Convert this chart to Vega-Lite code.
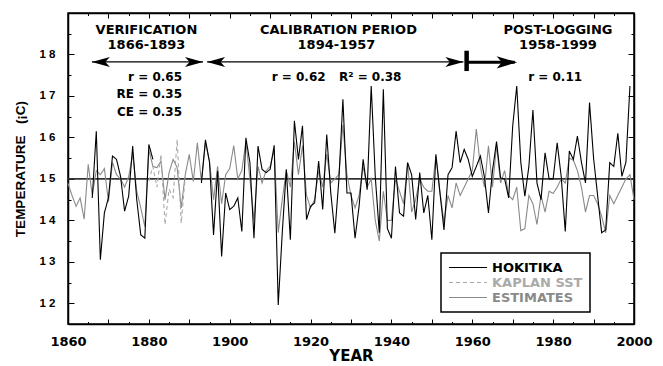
{
  "$schema": "https://vega.github.io/schema/vega-lite/v6.json",
  "width": 566,
  "height": 311,
  "autosize": {"type": "none"},
  "padding": {"left": 68, "top": 13, "right": 29, "bottom": 42},
  "background": "white",
  "config": {
    "view": {"stroke": "black", "strokeWidth": 1.5},
    "axis": {"grid": false, "domainColor": "black", "domainWidth": 1.5, "tickColor": "black", "tickWidth": 1, "labelColor": "black", "titleColor": "black", "labelFontWeight": "bold", "titleFontWeight": "bold", "labelOverlap": false, "labelFlush": false},
    "legend": {"orient": "none", "legendX": 373, "legendY": 240, "direction": "vertical", "symbolType": "M-1,0H4.85", "symbolSize": 169, "symbolStrokeWidth": 1.2, "labelFont": "DejaVu Sans", "labelFontSize": 13, "labelFontWeight": "bold", "labelOffset": 29, "padding": 7, "rowPadding": 0, "strokeColor": "black", "fillColor": "white"}
  },
  "datasets": {
    "temps": [
      {"year":1860,"series":"ESTIMATES","temp":14.89},{"year":1861,"series":"ESTIMATES","temp":14.6},{"year":1862,"series":"ESTIMATES","temp":14.34},{"year":1863,"series":"ESTIMATES","temp":14.54},{"year":1864,"series":"ESTIMATES","temp":14.03},{"year":1865,"series":"ESTIMATES","temp":15.35},{"year":1866,"series":"ESTIMATES","temp":14.6},{"year":1867,"series":"ESTIMATES","temp":15.2},{"year":1868,"series":"ESTIMATES","temp":15.1},{"year":1869,"series":"ESTIMATES","temp":15.25},
      {"year":1870,"series":"ESTIMATES","temp":14.45},{"year":1871,"series":"ESTIMATES","temp":15.4},{"year":1872,"series":"ESTIMATES","temp":15.1},{"year":1873,"series":"ESTIMATES","temp":15.0},{"year":1874,"series":"ESTIMATES","temp":14.8},{"year":1875,"series":"ESTIMATES","temp":15.05},{"year":1876,"series":"ESTIMATES","temp":15.6},{"year":1877,"series":"ESTIMATES","temp":14.7},{"year":1878,"series":"ESTIMATES","temp":14.3},{"year":1879,"series":"ESTIMATES","temp":13.85},
      {"year":1880,"series":"ESTIMATES","temp":15.7},{"year":1881,"series":"ESTIMATES","temp":15.3},{"year":1882,"series":"ESTIMATES","temp":15.27},{"year":1883,"series":"ESTIMATES","temp":15.43},{"year":1884,"series":"ESTIMATES","temp":14.5},{"year":1885,"series":"ESTIMATES","temp":15.15},{"year":1886,"series":"ESTIMATES","temp":15.47},{"year":1887,"series":"ESTIMATES","temp":15.27},{"year":1888,"series":"ESTIMATES","temp":14.3},{"year":1889,"series":"ESTIMATES","temp":15.1},
      {"year":1890,"series":"ESTIMATES","temp":15.59},{"year":1891,"series":"ESTIMATES","temp":14.94},{"year":1892,"series":"ESTIMATES","temp":15.87},{"year":1893,"series":"ESTIMATES","temp":14.94},{"year":1894,"series":"ESTIMATES","temp":15.87},{"year":1895,"series":"ESTIMATES","temp":15.43},{"year":1896,"series":"ESTIMATES","temp":14.5},{"year":1897,"series":"ESTIMATES","temp":15.3},{"year":1898,"series":"ESTIMATES","temp":14.4},{"year":1899,"series":"ESTIMATES","temp":15.1},
      {"year":1900,"series":"ESTIMATES","temp":15.25},{"year":1901,"series":"ESTIMATES","temp":15.8},{"year":1902,"series":"ESTIMATES","temp":15.0},{"year":1903,"series":"ESTIMATES","temp":15.2},{"year":1904,"series":"ESTIMATES","temp":15.9},{"year":1905,"series":"ESTIMATES","temp":15.0},{"year":1906,"series":"ESTIMATES","temp":14.0},{"year":1907,"series":"ESTIMATES","temp":15.3},{"year":1908,"series":"ESTIMATES","temp":14.9},{"year":1909,"series":"ESTIMATES","temp":15.2},
      {"year":1910,"series":"ESTIMATES","temp":15.3},{"year":1911,"series":"ESTIMATES","temp":15.7},{"year":1912,"series":"ESTIMATES","temp":13.7},{"year":1913,"series":"ESTIMATES","temp":14.5},{"year":1914,"series":"ESTIMATES","temp":15.2},{"year":1915,"series":"ESTIMATES","temp":14.8},{"year":1916,"series":"ESTIMATES","temp":15.9},{"year":1917,"series":"ESTIMATES","temp":15.1},{"year":1918,"series":"ESTIMATES","temp":15.8},{"year":1919,"series":"ESTIMATES","temp":14.6},
      {"year":1920,"series":"ESTIMATES","temp":14.3},{"year":1921,"series":"ESTIMATES","temp":14.5},{"year":1922,"series":"ESTIMATES","temp":15.2},{"year":1923,"series":"ESTIMATES","temp":14.8},{"year":1924,"series":"ESTIMATES","temp":15.6},{"year":1925,"series":"ESTIMATES","temp":14.9},{"year":1926,"series":"ESTIMATES","temp":15.0},{"year":1927,"series":"ESTIMATES","temp":15.1},{"year":1928,"series":"ESTIMATES","temp":16.3},{"year":1929,"series":"ESTIMATES","temp":15.1},
      {"year":1930,"series":"ESTIMATES","temp":14.6},{"year":1931,"series":"ESTIMATES","temp":14.3},{"year":1932,"series":"ESTIMATES","temp":14.6},{"year":1933,"series":"ESTIMATES","temp":15.3},{"year":1934,"series":"ESTIMATES","temp":14.8},{"year":1935,"series":"ESTIMATES","temp":15.0},{"year":1936,"series":"ESTIMATES","temp":14.0},{"year":1937,"series":"ESTIMATES","temp":13.5},{"year":1938,"series":"ESTIMATES","temp":14.7},{"year":1939,"series":"ESTIMATES","temp":14.0},
      {"year":1940,"series":"ESTIMATES","temp":14.0},{"year":1941,"series":"ESTIMATES","temp":15.0},{"year":1942,"series":"ESTIMATES","temp":14.7},{"year":1943,"series":"ESTIMATES","temp":14.4},{"year":1944,"series":"ESTIMATES","temp":15.4},{"year":1945,"series":"ESTIMATES","temp":14.2},{"year":1946,"series":"ESTIMATES","temp":14.5},{"year":1947,"series":"ESTIMATES","temp":15.0},{"year":1948,"series":"ESTIMATES","temp":14.8},{"year":1949,"series":"ESTIMATES","temp":14.7},
      {"year":1950,"series":"ESTIMATES","temp":14.7},{"year":1951,"series":"ESTIMATES","temp":15.55},{"year":1952,"series":"ESTIMATES","temp":14.7},{"year":1953,"series":"ESTIMATES","temp":13.95},{"year":1954,"series":"ESTIMATES","temp":14.6},{"year":1955,"series":"ESTIMATES","temp":14.3},{"year":1956,"series":"ESTIMATES","temp":14.9},{"year":1957,"series":"ESTIMATES","temp":14.6},{"year":1958,"series":"ESTIMATES","temp":14.8},{"year":1959,"series":"ESTIMATES","temp":15.0},
      {"year":1960,"series":"ESTIMATES","temp":15.2},{"year":1961,"series":"ESTIMATES","temp":16.2},{"year":1962,"series":"ESTIMATES","temp":15.3},{"year":1963,"series":"ESTIMATES","temp":14.8},{"year":1964,"series":"ESTIMATES","temp":15.8},{"year":1965,"series":"ESTIMATES","temp":14.8},{"year":1966,"series":"ESTIMATES","temp":15.8},{"year":1967,"series":"ESTIMATES","temp":14.9},{"year":1968,"series":"ESTIMATES","temp":15.2},{"year":1969,"series":"ESTIMATES","temp":14.6},
      {"year":1970,"series":"ESTIMATES","temp":14.5},{"year":1971,"series":"ESTIMATES","temp":14.8},{"year":1972,"series":"ESTIMATES","temp":13.75},{"year":1973,"series":"ESTIMATES","temp":13.8},{"year":1974,"series":"ESTIMATES","temp":14.6},{"year":1975,"series":"ESTIMATES","temp":14.4},{"year":1976,"series":"ESTIMATES","temp":13.9},{"year":1977,"series":"ESTIMATES","temp":14.6},{"year":1978,"series":"ESTIMATES","temp":14.2},{"year":1979,"series":"ESTIMATES","temp":14.7},
      {"year":1980,"series":"ESTIMATES","temp":14.65},{"year":1981,"series":"ESTIMATES","temp":14.8},{"year":1982,"series":"ESTIMATES","temp":15.0},{"year":1983,"series":"ESTIMATES","temp":14.9},{"year":1984,"series":"ESTIMATES","temp":15.5},{"year":1985,"series":"ESTIMATES","temp":15.45},{"year":1986,"series":"ESTIMATES","temp":15.2},{"year":1987,"series":"ESTIMATES","temp":14.8},{"year":1988,"series":"ESTIMATES","temp":14.2},{"year":1989,"series":"ESTIMATES","temp":14.6},
      {"year":1990,"series":"ESTIMATES","temp":14.6},{"year":1991,"series":"ESTIMATES","temp":14.4},{"year":1992,"series":"ESTIMATES","temp":14.1},{"year":1993,"series":"ESTIMATES","temp":13.7},{"year":1994,"series":"ESTIMATES","temp":14.6},{"year":1995,"series":"ESTIMATES","temp":14.4},{"year":1996,"series":"ESTIMATES","temp":14.6},{"year":1997,"series":"ESTIMATES","temp":14.8},{"year":1998,"series":"ESTIMATES","temp":15.0},{"year":1999,"series":"ESTIMATES","temp":15.1},
      {"year":2000,"series":"ESTIMATES","temp":14.5},
      {"year":1880,"series":"KAPLAN SST","temp":14.95},{"year":1881,"series":"KAPLAN SST","temp":15.3},{"year":1882,"series":"KAPLAN SST","temp":14.8},{"year":1883,"series":"KAPLAN SST","temp":15.59},{"year":1884,"series":"KAPLAN SST","temp":13.9},{"year":1885,"series":"KAPLAN SST","temp":14.75},{"year":1886,"series":"KAPLAN SST","temp":14.55},{"year":1887,"series":"KAPLAN SST","temp":15.95},{"year":1888,"series":"KAPLAN SST","temp":13.93},{"year":1889,"series":"KAPLAN SST","temp":15.05},
      {"year":1866,"series":"HOKITIKA","temp":14.54},{"year":1867,"series":"HOKITIKA","temp":16.15},{"year":1868,"series":"HOKITIKA","temp":13.05},{"year":1869,"series":"HOKITIKA","temp":14.18},{"year":1870,"series":"HOKITIKA","temp":14.54},{"year":1871,"series":"HOKITIKA","temp":15.55},{"year":1872,"series":"HOKITIKA","temp":15.47},{"year":1873,"series":"HOKITIKA","temp":15.06},{"year":1874,"series":"HOKITIKA","temp":14.22},{"year":1875,"series":"HOKITIKA","temp":14.58},
      {"year":1876,"series":"HOKITIKA","temp":15.79},{"year":1877,"series":"HOKITIKA","temp":14.5},{"year":1878,"series":"HOKITIKA","temp":13.65},{"year":1879,"series":"HOKITIKA","temp":13.57},{"year":1880,"series":"HOKITIKA","temp":15.83},{"year":1881,"series":"HOKITIKA","temp":15.47},{"year":1886,"series":"HOKITIKA","temp":null},
      {"year":1893,"series":"HOKITIKA","temp":14.9},{"year":1894,"series":"HOKITIKA","temp":15.94},{"year":1895,"series":"HOKITIKA","temp":15.4},{"year":1896,"series":"HOKITIKA","temp":13.65},{"year":1897,"series":"HOKITIKA","temp":15.19},{"year":1898,"series":"HOKITIKA","temp":13.13},{"year":1899,"series":"HOKITIKA","temp":14.66},
      {"year":1900,"series":"HOKITIKA","temp":14.26},{"year":1901,"series":"HOKITIKA","temp":14.34},{"year":1902,"series":"HOKITIKA","temp":14.54},{"year":1903,"series":"HOKITIKA","temp":13.73},{"year":1904,"series":"HOKITIKA","temp":15.99},{"year":1905,"series":"HOKITIKA","temp":15.39},{"year":1906,"series":"HOKITIKA","temp":13.57},{"year":1907,"series":"HOKITIKA","temp":15.79},{"year":1908,"series":"HOKITIKA","temp":15.23},{"year":1909,"series":"HOKITIKA","temp":15.15},
      {"year":1910,"series":"HOKITIKA","temp":15.23},{"year":1911,"series":"HOKITIKA","temp":15.81},{"year":1912,"series":"HOKITIKA","temp":11.96},{"year":1913,"series":"HOKITIKA","temp":13.7},{"year":1914,"series":"HOKITIKA","temp":15.23},{"year":1915,"series":"HOKITIKA","temp":13.53},{"year":1916,"series":"HOKITIKA","temp":16.4},{"year":1917,"series":"HOKITIKA","temp":15.47},{"year":1918,"series":"HOKITIKA","temp":16.28},{"year":1919,"series":"HOKITIKA","temp":14.02},
      {"year":1920,"series":"HOKITIKA","temp":14.34},{"year":1921,"series":"HOKITIKA","temp":14.42},{"year":1922,"series":"HOKITIKA","temp":15.43},{"year":1923,"series":"HOKITIKA","temp":14.26},{"year":1924,"series":"HOKITIKA","temp":16.07},{"year":1925,"series":"HOKITIKA","temp":14.66},{"year":1926,"series":"HOKITIKA","temp":13.69},{"year":1927,"series":"HOKITIKA","temp":14.98},{"year":1928,"series":"HOKITIKA","temp":16.92},{"year":1929,"series":"HOKITIKA","temp":14.66},
      {"year":1930,"series":"HOKITIKA","temp":14.66},{"year":1931,"series":"HOKITIKA","temp":13.57},{"year":1932,"series":"HOKITIKA","temp":14.34},{"year":1933,"series":"HOKITIKA","temp":15.47},{"year":1934,"series":"HOKITIKA","temp":14.74},{"year":1935,"series":"HOKITIKA","temp":17.24},{"year":1936,"series":"HOKITIKA","temp":15.06},{"year":1937,"series":"HOKITIKA","temp":13.7},{"year":1938,"series":"HOKITIKA","temp":17.16},{"year":1939,"series":"HOKITIKA","temp":13.8},
      {"year":1940,"series":"HOKITIKA","temp":13.57},{"year":1941,"series":"HOKITIKA","temp":15.3},{"year":1942,"series":"HOKITIKA","temp":14.18},{"year":1943,"series":"HOKITIKA","temp":14.1},{"year":1944,"series":"HOKITIKA","temp":15.39},{"year":1945,"series":"HOKITIKA","temp":15.1},{"year":1946,"series":"HOKITIKA","temp":14.02},{"year":1947,"series":"HOKITIKA","temp":15.15},{"year":1948,"series":"HOKITIKA","temp":14.18},{"year":1949,"series":"HOKITIKA","temp":14.6},
      {"year":1950,"series":"HOKITIKA","temp":13.53},{"year":1951,"series":"HOKITIKA","temp":15.59},{"year":1952,"series":"HOKITIKA","temp":14.66},{"year":1953,"series":"HOKITIKA","temp":13.77},{"year":1954,"series":"HOKITIKA","temp":15.1},{"year":1955,"series":"HOKITIKA","temp":15.27},{"year":1956,"series":"HOKITIKA","temp":16.15},{"year":1957,"series":"HOKITIKA","temp":15.39},{"year":1958,"series":"HOKITIKA","temp":15.71},{"year":1959,"series":"HOKITIKA","temp":15.47},
      {"year":1960,"series":"HOKITIKA","temp":15.06},{"year":1961,"series":"HOKITIKA","temp":15.3},{"year":1962,"series":"HOKITIKA","temp":15.55},{"year":1963,"series":"HOKITIKA","temp":15.05},{"year":1964,"series":"HOKITIKA","temp":14.18},{"year":1965,"series":"HOKITIKA","temp":15.2},{"year":1966,"series":"HOKITIKA","temp":15.9},{"year":1967,"series":"HOKITIKA","temp":15.02},{"year":1968,"series":"HOKITIKA","temp":15.0},{"year":1969,"series":"HOKITIKA","temp":14.54},
      {"year":1970,"series":"HOKITIKA","temp":16.28},{"year":1971,"series":"HOKITIKA","temp":17.24},{"year":1972,"series":"HOKITIKA","temp":15.4},{"year":1973,"series":"HOKITIKA","temp":14.58},{"year":1974,"series":"HOKITIKA","temp":15.3},{"year":1975,"series":"HOKITIKA","temp":16.66},{"year":1976,"series":"HOKITIKA","temp":14.9},{"year":1977,"series":"HOKITIKA","temp":14.5},{"year":1978,"series":"HOKITIKA","temp":15.63},{"year":1979,"series":"HOKITIKA","temp":15.0},
      {"year":1980,"series":"HOKITIKA","temp":15.0},{"year":1981,"series":"HOKITIKA","temp":15.87},{"year":1982,"series":"HOKITIKA","temp":15.05},{"year":1983,"series":"HOKITIKA","temp":13.73},{"year":1984,"series":"HOKITIKA","temp":15.67},{"year":1985,"series":"HOKITIKA","temp":15.47},{"year":1986,"series":"HOKITIKA","temp":16.03},{"year":1987,"series":"HOKITIKA","temp":15.4},{"year":1988,"series":"HOKITIKA","temp":14.9},{"year":1989,"series":"HOKITIKA","temp":16.84},
      {"year":1990,"series":"HOKITIKA","temp":15.5},{"year":1991,"series":"HOKITIKA","temp":14.6},{"year":1992,"series":"HOKITIKA","temp":13.7},{"year":1993,"series":"HOKITIKA","temp":13.77},{"year":1994,"series":"HOKITIKA","temp":15.39},{"year":1995,"series":"HOKITIKA","temp":15.3},{"year":1996,"series":"HOKITIKA","temp":16.1},{"year":1997,"series":"HOKITIKA","temp":15.06},{"year":1998,"series":"HOKITIKA","temp":15.4},{"year":1999,"series":"HOKITIKA","temp":17.24}
    ],
    "mean": [{"temp": 15}],
    "shafts": [{"from": 1865.9, "to": 1893.4, "temp": 17.82}, {"from": 1894.4, "to": 1957.8, "temp": 17.82}],
    "thick": [{"from": 1958.6, "to": 1970.5, "temp": 17.81}],
    "bar": [{"year": 1958.6, "low": 17.6, "high": 18.09}],
    "heads": [
      {"year": 1865.9, "temp": 17.82, "dir": "left"},
      {"year": 1894.4, "temp": 17.82, "dir": "left"},
      {"year": 1893.4, "temp": 17.82, "dir": "right"},
      {"year": 1957.8, "temp": 17.82, "dir": "right"},
      {"year": 1971.1, "temp": 17.81, "dir": "thick"}
    ],
    "headers": [
      {"text": "VERIFICATION", "year": 1879.4, "temp": 18.58},
      {"text": "1866-1893", "year": 1879.4, "temp": 18.24},
      {"text": "CALIBRATION PERIOD", "year": 1926.9, "temp": 18.58},
      {"text": "1894-1957", "year": 1926.4, "temp": 18.24},
      {"text": "POST-LOGGING", "year": 1981.2, "temp": 18.58},
      {"text": "1958-1999", "year": 1981.2, "temp": 18.24}
    ],
    "statsRight": [
      {"text": "r = 0.65", "year": 1888.2, "temp": 17.45},
      {"text": "RE = 0.35", "year": 1888.2, "temp": 17.04},
      {"text": "CE = 0.35", "year": 1888.2, "temp": 16.62}
    ],
    "statsCenter": [
      {"text": "r = 0.62", "year": 1917.05, "temp": 17.45},
      {"text": "R² = 0.38", "year": 1934.75, "temp": 17.45},
      {"text": "r = 0.11", "year": 1980.5, "temp": 17.45}
    ]
  },
  "layer": [
    {
      "data": {"name": "mean"},
      "mark": {"type": "rule", "color": "#333333", "strokeWidth": 1.6},
      "encoding": {
        "y": {"field": "temp", "type": "quantitative", "scale": {"domain": [11.5, 19], "nice": false, "zero": false}, "axis": null}
      }
    },
    {
      "data": {"name": "temps"},
      "mark": {"type": "line", "strokeWidth": 1.1, "invalid": "break-paths-show-domains"},
      "encoding": {
        "x": {"field": "year", "type": "quantitative", "scale": {"domain": [1860, 2000], "nice": false, "zero": false},
          "axis": {"orient": "bottom", "values": [1860,1865,1870,1875,1880,1885,1890,1895,1900,1905,1910,1915,1920,1925,1930,1935,1940,1945,1950,1955,1960,1965,1970,1975,1980,1985,1990,1995,2000],
            "format": "d", "labelExpr": "datum.value % 20 === 0 ? datum.label : ''",
            "tickSize": {"condition": {"test": "datum.value % 10 === 0", "value": -5}, "value": -2.5},
            "labelPadding": 16, "labelFont": "DejaVu Sans", "labelFontSize": 13,
            "title": "YEAR", "titleFont": "DejaVu Sans", "titleFontSize": 15, "titlePadding": -2}},
        "y": {"field": "temp", "type": "quantitative", "scale": {"domain": [11.5, 19], "nice": false, "zero": false},
          "axis": {"orient": "left", "values": [12,12.5,13,13.5,14,14.5,15,15.5,16,16.5,17,17.5,18,18.5],
            "labelExpr": "datum.value % 1 === 0 ? substring(toString(datum.value), 0, 1) + ' ' + substring(toString(datum.value), 1) : ''",
            "tickSize": {"condition": {"test": "datum.value % 1 === 0", "value": -6}, "value": -3},
            "labelPadding": 19, "labelFont": "Liberation Sans", "labelFontSize": 11.5,
            "title": "TEMPERATURE\u00a0\u00a0\u00a0(¡C)", "titleFont": "Liberation Sans", "titleFontSize": 13.5, "titlePadding": 12}},
        "color": {"field": "series", "type": "nominal",
          "scale": {"domain": ["HOKITIKA", "KAPLAN SST", "ESTIMATES"], "range": ["#000000", "#aaaaaa", "#8a8a8a"]},
          "legend": {"title": null, "encode": {"labels": {"update": {"fill": {"signal": "datum.label === 'HOKITIKA' ? '#000000' : datum.label === 'KAPLAN SST' ? '#aaaaaa' : '#8a8a8a'"}}}, "legend": {"update": {"strokeWidth": {"value": 1.5}}}}}},
        "strokeDash": {"field": "series", "type": "nominal",
          "scale": {"domain": ["HOKITIKA", "KAPLAN SST", "ESTIMATES"], "range": [[1, 0], [4, 3], [1, 0]]},
          "legend": {"title": null}}
      }
    },
    {
      "data": {"name": "shafts"},
      "mark": {"type": "rule", "color": "black", "strokeWidth": 1.3},
      "encoding": {
        "x": {"field": "from", "type": "quantitative", "scale": {"domain": [1860, 2000], "nice": false, "zero": false},
          "axis": {"orient": "top", "values": [1860,1865,1870,1875,1880,1885,1890,1895,1900,1905,1910,1915,1920,1925,1930,1935,1940,1945,1950,1955,1960,1965,1970,1975,1980,1985,1990,1995,2000],
            "labels": false, "title": null,
            "tickSize": {"condition": {"test": "datum.value % 10 === 0", "value": -5}, "value": -2.5}}},
        "x2": {"field": "to"},
        "y": {"field": "temp", "type": "quantitative", "scale": {"domain": [11.5, 19], "nice": false, "zero": false},
          "axis": {"orient": "right", "values": [12,12.5,13,13.5,14,14.5,15,15.5,16,16.5,17,17.5,18,18.5],
            "labels": false, "title": null,
            "tickSize": {"condition": {"test": "datum.value % 1 === 0", "value": -6}, "value": -3}}}
      }
    },
    {
      "data": {"name": "thick"},
      "mark": {"type": "rule", "color": "black", "strokeWidth": 3},
      "encoding": {
        "x": {"field": "from", "type": "quantitative", "scale": {"domain": [1860, 2000], "nice": false, "zero": false}, "axis": null},
        "x2": {"field": "to"},
        "y": {"field": "temp", "type": "quantitative", "scale": {"domain": [11.5, 19], "nice": false, "zero": false}, "axis": null}
      }
    },
    {
      "data": {"name": "bar"},
      "mark": {"type": "rule", "color": "black", "strokeWidth": 4.5},
      "encoding": {
        "x": {"field": "year", "type": "quantitative", "scale": {"domain": [1860, 2000], "nice": false, "zero": false}, "axis": null},
        "y": {"field": "low", "type": "quantitative", "scale": {"domain": [11.5, 19], "nice": false, "zero": false}, "axis": null},
        "y2": {"field": "high"}
      }
    },
    {
      "data": {"name": "heads"},
      "transform": [{"filter": "datum.dir === 'left'"}],
      "mark": {"type": "point", "shape": "M0,0L2,-0.55L1.5,0L2,0.55Z", "filled": true, "color": "black", "opacity": 1, "size": 324, "strokeWidth": 0},
      "encoding": {
        "x": {"field": "year", "type": "quantitative", "scale": {"domain": [1860, 2000], "nice": false, "zero": false}, "axis": null},
        "y": {"field": "temp", "type": "quantitative", "scale": {"domain": [11.5, 19], "nice": false, "zero": false}, "axis": null}
      }
    },
    {
      "data": {"name": "heads"},
      "transform": [{"filter": "datum.dir === 'right'"}],
      "mark": {"type": "point", "shape": "M0,0L-2,-0.55L-1.5,0L-2,0.55Z", "filled": true, "color": "black", "opacity": 1, "size": 324, "strokeWidth": 0},
      "encoding": {
        "x": {"field": "year", "type": "quantitative", "scale": {"domain": [1860, 2000], "nice": false, "zero": false}, "axis": null},
        "y": {"field": "temp", "type": "quantitative", "scale": {"domain": [11.5, 19], "nice": false, "zero": false}, "axis": null}
      }
    },
    {
      "data": {"name": "heads"},
      "transform": [{"filter": "datum.dir === 'thick'"}],
      "mark": {"type": "point", "shape": "M0,0L-2,-0.6L-1.5,0L-2,0.6Z", "filled": true, "color": "black", "opacity": 1, "size": 420, "strokeWidth": 0},
      "encoding": {
        "x": {"field": "year", "type": "quantitative", "scale": {"domain": [1860, 2000], "nice": false, "zero": false}, "axis": null},
        "y": {"field": "temp", "type": "quantitative", "scale": {"domain": [11.5, 19], "nice": false, "zero": false}, "axis": null}
      }
    },
    {
      "data": {"name": "headers"},
      "mark": {"type": "text", "font": "DejaVu Sans", "fontWeight": "bold", "fontSize": 13, "align": "center", "baseline": "middle", "color": "black"},
      "encoding": {
        "x": {"field": "year", "type": "quantitative", "scale": {"domain": [1860, 2000], "nice": false, "zero": false}, "axis": null},
        "y": {"field": "temp", "type": "quantitative", "scale": {"domain": [11.5, 19], "nice": false, "zero": false}, "axis": null},
        "text": {"field": "text"}
      }
    },
    {
      "data": {"name": "statsRight"},
      "mark": {"type": "text", "font": "DejaVu Sans", "fontWeight": "bold", "fontSize": 12, "align": "right", "baseline": "middle", "color": "black"},
      "encoding": {
        "x": {"field": "year", "type": "quantitative", "scale": {"domain": [1860, 2000], "nice": false, "zero": false}, "axis": null},
        "y": {"field": "temp", "type": "quantitative", "scale": {"domain": [11.5, 19], "nice": false, "zero": false}, "axis": null},
        "text": {"field": "text"}
      }
    },
    {
      "data": {"name": "statsCenter"},
      "mark": {"type": "text", "font": "DejaVu Sans", "fontWeight": "bold", "fontSize": 12, "align": "center", "baseline": "middle", "color": "black"},
      "encoding": {
        "x": {"field": "year", "type": "quantitative", "scale": {"domain": [1860, 2000], "nice": false, "zero": false}, "axis": null},
        "y": {"field": "temp", "type": "quantitative", "scale": {"domain": [11.5, 19], "nice": false, "zero": false}, "axis": null},
        "text": {"field": "text"}
      }
    }
  ],
  "resolve": {"axis": {"x": "independent", "y": "independent"}}
}
